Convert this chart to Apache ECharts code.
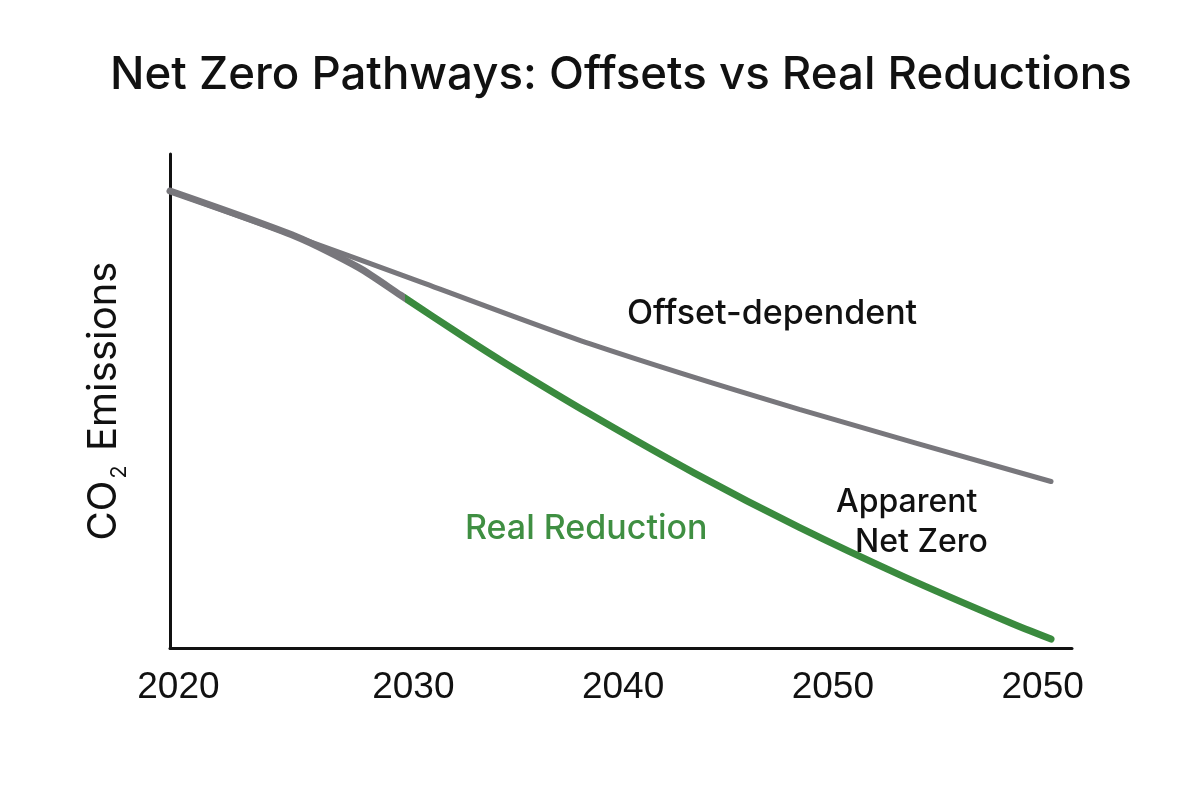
<!DOCTYPE html>
<html>
<head>
<meta charset="utf-8">
<title>Net Zero Pathways</title>
<script src="https://cdn.jsdelivr.net/npm/echarts@6/dist/echarts.min.js"></script>
<style>
  html, body { margin: 0; padding: 0; background: #fff; }
  #chart { width: 1200px; height: 800px; }
</style>
</head>
<body>
<div id="chart"></div>
<script>
// x is in years from the left edge of the axis, y is emissions in % of axis height
const tickValues = [0.4, 11.6, 21.6, 31.6, 41.6];
const tickLabels = ['2020', '2030', '2040', '2050', '2050'];

const offsetX = [0, 6, 12, 20, 30, 42];
const offsetY = [92.5, 83.3, 74.0, 61.6, 48.3, 33.7];

const realX = [0, 6, 9, 11, 14, 16, 20, 25, 30, 35, 40, 42];
const realY = [92.5, 83.3, 77.0, 71.4, 63.0, 57.6, 47.4, 35.4, 24.4, 14.4, 5.2, 1.8];

// where the real reduction line turns from grey to green
const greenFrom = 11.3;

const GREY = '#78777c';
const GREEN = '#3a8a3e';
const FONT = 'Inter, "Liberation Sans", sans-serif';

const chart = echarts.init(document.getElementById('chart'));

// grey-to-green switch, as a share of the real reduction line's x span
const split = (greenFrom - realX[0]) / (realX[realX.length - 1] - realX[0]);

chart.setOption({
    backgroundColor: '#fff',
    animation: false,
    title: {
        text: 'Net Zero Pathways: Offsets vs Real Reductions',
        left: 105,
        top: 47,
        textStyle: { fontFamily: FONT, fontSize: 45.6, fontWeight: 500, color: '#111' }
    },
    grid: { left: 170, right: 128, top: 154, bottom: 152 },
    xAxis: {
        type: 'value',
        min: 0,
        max: 43,
        axisLine: { lineStyle: { color: '#111', width: 3 } },
        axisTick: { show: false },
        splitLine: { show: false },
        axisLabel: {
            customValues: tickValues,
            formatter: v => tickLabels[tickValues.indexOf(v)] || '',
            margin: 21,
            fontFamily: '"Liberation Sans", sans-serif',
            fontSize: 37,
            color: '#111'
        }
    },
    yAxis: {
        type: 'value',
        min: 0,
        max: 100,
        name: '{a|CO}{b|2}{a| Emissions}',
        nameLocation: 'middle',
        nameGap: 46,
        nameTextStyle: {
            rich: {
                a: { fontFamily: FONT, fontSize: 40, color: '#111', lineHeight: 48, verticalAlign: 'bottom' },
                b: { fontFamily: FONT, fontSize: 22, color: '#111', lineHeight: 48, verticalAlign: 'bottom', padding: [0, 3, -6, 2] }
            }
        },
        axisLine: { show: true, lineStyle: { color: '#111', width: 3 } },
        axisTick: { show: false },
        axisLabel: { show: false },
        splitLine: { show: false }
    },
    series: [
        {
            name: 'Offset-dependent',
            type: 'line',
            smooth: 0.25,
            showSymbol: false,
            data: offsetX.map((x, i) => [x, offsetY[i]]),
            lineStyle: { color: GREY, width: 5, cap: 'round' },
            z: 2
        },
        {
            name: 'Real Reduction',
            type: 'line',
            smooth: 0.25,
            showSymbol: false,
            data: realX.map((x, i) => [x, realY[i]]),
            lineStyle: {
                width: 7,
                cap: 'round',
                color: new echarts.graphic.LinearGradient(0, 0, 1, 0, [
                    { offset: 0, color: GREY },
                    { offset: split, color: GREY },
                    { offset: split, color: GREEN },
                    { offset: 1, color: GREEN }
                ])
            },
            z: 3
        }
    ],
    graphic: [
        {
            type: 'text', left: 627, top: 297,
            style: { text: 'Offset-dependent', font: '500 34px ' + FONT, fill: '#111' }
        },
        {
            type: 'text', left: 836, top: 486,
            style: { text: 'Apparent', font: '500 32px ' + FONT, fill: '#111' }
        },
        {
            type: 'text', left: 855, top: 526,
            style: { text: 'Net Zero', font: '500 32px ' + FONT, fill: '#111' }
        },
        {
            type: 'text', left: 465, top: 512,
            style: { text: 'Real Reduction', font: '500 34px ' + FONT, fill: '#3f8f42' }
        }
    ]
});
</script>
</body>
</html>
